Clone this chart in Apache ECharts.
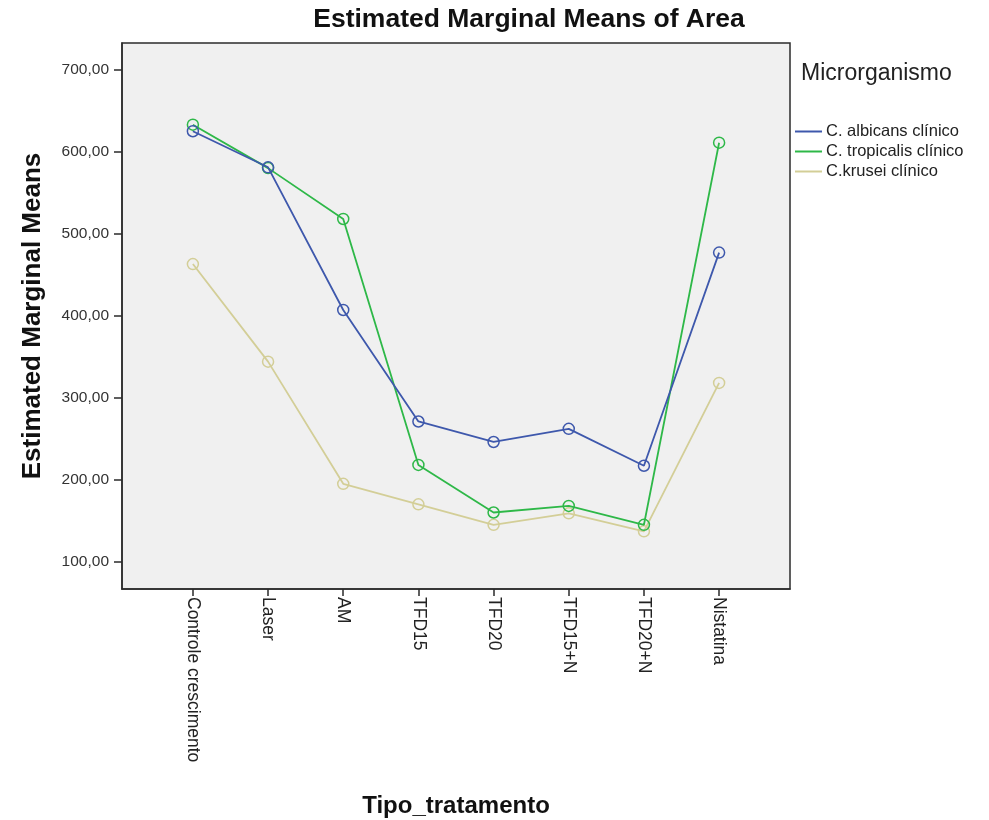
<!DOCTYPE html>
<html>
<head>
<meta charset="utf-8">
<title>Estimated Marginal Means of Area</title>
<script src="https://cdn.jsdelivr.net/npm/echarts@6/dist/echarts.min.js"></script>
<style>
  html, body { margin: 0; padding: 0; background: #ffffff; }
  #chart { width: 989px; height: 820px; }
</style>
</head>
<body>
<div id="chart"></div>
<script>
// Treatment groups along the horizontal axis
const categories = ['Controle crescimento', 'Laser', 'AM', 'TFD15', 'TFD20', 'TFD15+N', 'TFD20+N', 'Nistatina'];

// Estimated marginal means of area per microorganism
const seriesNames = ['C. albicans clínico', 'C. tropicalis clínico', 'C.krusei clínico'];
const albicans   = [625, 581, 407, 271, 246, 262, 217, 477];
const tropicalis = [633, 580, 518, 218, 160, 168, 145, 611];
const krusei     = [463, 344, 195, 170, 145, 159, 137, 318];

// Tick values on the vertical axis
const yTicks = [100, 200, 300, 400, 500, 600, 700];

const colors = ['#3E58AC', '#2EB848', '#D3CE97'];
const FONT = 'Liberation Sans, Arial, sans-serif';

const valueSets = [albicans, tropicalis, krusei];
const idx = categories.map((_, i) => i);

const series = seriesNames.map((name, s) => ({
  name: name,
  type: 'line',
  data: valueSets[s].map((v, i) => [i, v]),
  symbol: 'circle',
  symbolSize: 11,
  z: 3 + (2 - s),
  lineStyle: { color: colors[s], width: 1.8 },
  itemStyle: { color: 'transparent', borderColor: colors[s], borderWidth: 1.5 },
  emphasis: { disabled: true },
  animation: false
}));

const chart = echarts.init(document.getElementById('chart'), null, { renderer: 'canvas' });
chart.setOption({
  backgroundColor: '#ffffff',
  animation: false,
  title: [
    {
      text: 'Estimated Marginal Means of Area',
      left: 524, top: 1, textAlign: 'center',
      textStyle: { fontFamily: FONT, fontSize: 26.5, fontWeight: 'bold', color: '#111' }
    },
    {
      text: 'Microrganismo',
      left: 796, top: 57,
      textStyle: { fontFamily: FONT, fontSize: 23, fontWeight: 'normal', color: '#222' }
    }
  ],
  legend: {
    orient: 'vertical',
    left: 795, top: 123,
    icon: 'rect',
    itemWidth: 27, itemHeight: 2, itemGap: 3,
    padding: 0,
    selectedMode: false,
    textStyle: { fontFamily: FONT, fontSize: 16.5, color: '#222', lineHeight: 16, padding: [0, 0, 0, -1] },
    data: seriesNames.map((n, s) => ({ name: n, itemStyle: { color: colors[s], borderWidth: 0 } }))
  },
  grid: {
    left: 122, top: 43, width: 668, height: 546,
    show: true,
    backgroundColor: '#f0f0f0',
    borderColor: '#2b2b2b',
    borderWidth: 1.5,
    outerBoundsMode: 'none'
  },
  xAxis: {
    type: 'value',
    min: -0.943, max: 7.943,
    name: 'Tipo_tratamento',
    nameLocation: 'middle',
    nameGap: 205,
    nameTextStyle: { fontFamily: FONT, fontSize: 24, fontWeight: 'bold', color: '#111' },
    splitLine: { show: false },
    axisLine: { show: true, onZero: false, lineStyle: { color: '#2b2b2b', width: 1.5 } },
    axisTick: { show: true, length: 7, customValues: idx, lineStyle: { color: '#2b2b2b', width: 1.5 } },
    axisLabel: {
      customValues: idx,
      rotate: -90,
      margin: 8,
      fontFamily: FONT, fontSize: 17.5, color: '#222',
      formatter: v => categories[Math.round(v)] || ''
    }
  },
  yAxis: {
    type: 'value',
    min: 66.7, max: 732.6,
    name: 'Estimated Marginal Means',
    nameLocation: 'middle',
    nameGap: 76,
    nameTextStyle: { fontFamily: FONT, fontSize: 26, fontWeight: 'bold', color: '#111' },
    splitLine: { show: false },
    axisLine: { show: true, onZero: false, lineStyle: { color: '#2b2b2b', width: 1.5 } },
    axisTick: { show: true, length: 8, customValues: yTicks, lineStyle: { color: '#2b2b2b', width: 1.5 } },
    axisLabel: {
      customValues: yTicks,
      margin: 13,
      fontFamily: FONT, fontSize: 15.5, color: '#333',
      formatter: v => v.toFixed(2).replace('.', ',')
    }
  },
  series: series
});
</script>
</body>
</html>
